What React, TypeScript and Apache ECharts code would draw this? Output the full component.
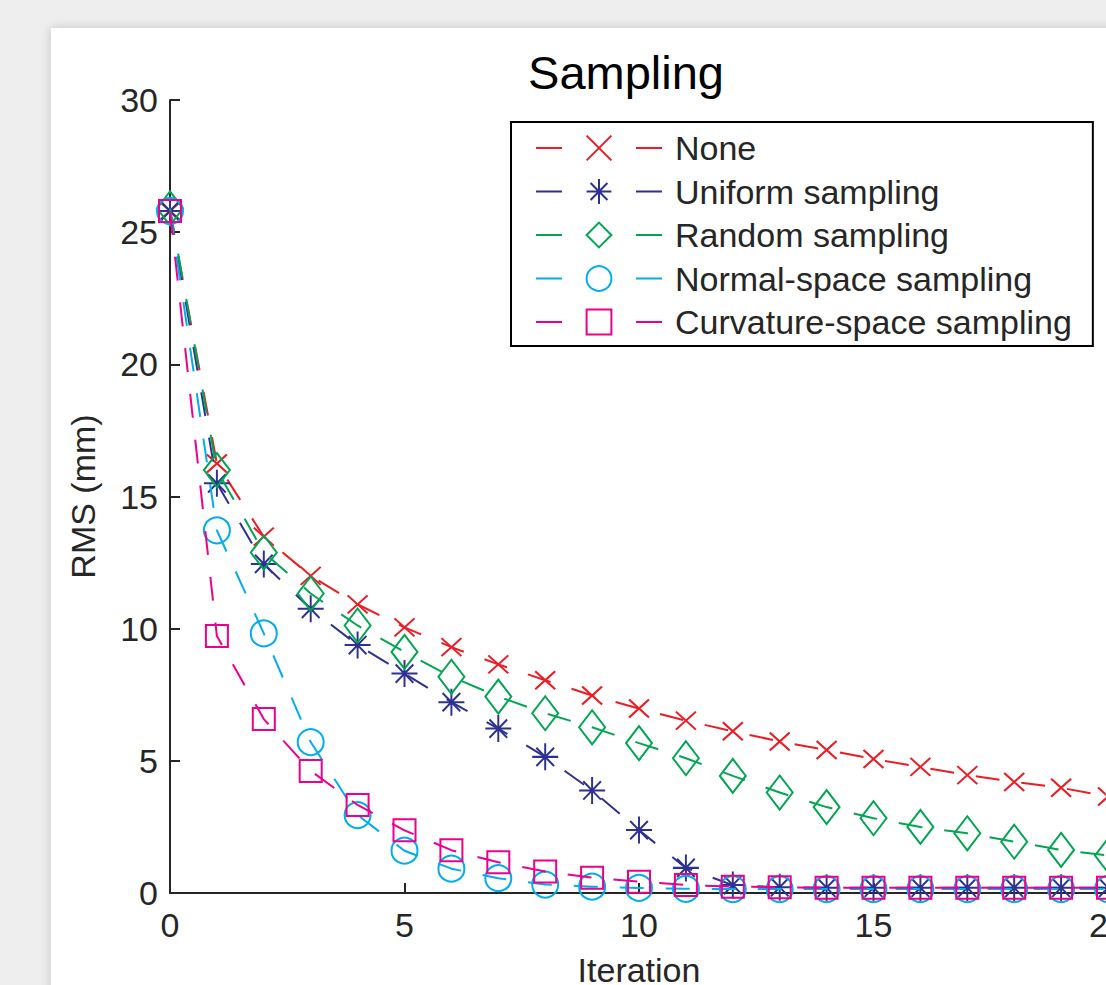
import React, { useEffect, useRef } from "react";
import * as echarts from "echarts";

const iterations = [0, 1, 2, 3, 4, 5, 6, 7, 8, 9, 10, 11, 12, 13, 14, 15, 16, 17, 18, 19, 20];
const seriesNames = ["None", "Uniform sampling", "Random sampling", "Normal-space sampling", "Curvature-space sampling"];
const noneValues = [25.8, 16.25, 13.48, 12.0, 10.92, 10.05, 9.3, 8.65, 8.05, 7.47, 6.98, 6.52, 6.12, 5.73, 5.41, 5.07, 4.77, 4.46, 4.2, 3.98, 3.65];
const uniformValues = [25.8, 15.5, 12.45, 10.75, 9.38, 8.3, 7.22, 6.22, 5.15, 3.88, 2.38, 0.95, 0.3, 0.22, 0.2, 0.2, 0.2, 0.2, 0.2, 0.2, 0.2];
const randomValues = [25.9, 16.0, 12.88, 11.33, 10.12, 9.12, 8.18, 7.43, 6.8, 6.27, 5.67, 5.1, 4.43, 3.8, 3.25, 2.83, 2.5, 2.26, 1.94, 1.63, 1.42];
const normalValues = [25.8, 13.72, 9.82, 5.71, 2.95, 1.6, 0.92, 0.56, 0.32, 0.24, 0.19, 0.16, 0.15, 0.15, 0.15, 0.15, 0.15, 0.15, 0.15, 0.15, 0.15];
const curvatureValues = [25.8, 9.72, 6.58, 4.62, 3.33, 2.37, 1.62, 1.16, 0.81, 0.58, 0.43, 0.3, 0.24, 0.22, 0.2, 0.2, 0.2, 0.2, 0.2, 0.2, 0.2];
const seriesColors = ["#ed1c24", "#2e3192", "#00a651", "#00aeef", "#ec008c"];
const xTicks = { min: 0, max: 20, interval: 5 };
const yTicks = { min: 0, max: 30, interval: 5 };

const FONT = "'Liberation Sans', Arial, Helvetica, sans-serif";
const TEXT = "#262626";
const FS = 34;

const symbols = [
  { symbol: "path://M0,0L10,10M10,0L0,10", size: [20, 18] },
  { symbol: "path://M5,0L5,10M0,5L10,5M1.6,1.6L8.4,8.4M8.4,1.6L1.6,8.4", size: [26, 27] },
  { symbol: "path://M5,0L10,7L5,14L0,7Z", size: [26, 34] },
  { symbol: "circle", size: 26 },
  { symbol: "rect", size: 22 },
];

export default function App() {
  const ref = useRef<HTMLDivElement>(null);
  useEffect(() => {
    if (!ref.current) return;
    const chart = echarts.init(ref.current, null, { renderer: "svg" });
    const all = [noneValues, uniformValues, randomValues, normalValues, curvatureValues];
    const series = all.map((vals, i) => ({
      name: seriesNames[i],
      type: "line",
      data: iterations.map((x, k) => [x, vals[k]]),
      symbol: symbols[i].symbol,
      symbolSize: symbols[i].size,
      showSymbol: true,
      lineStyle: { color: seriesColors[i], width: 2, type: [24, 22] },
      itemStyle: { color: "rgba(0,0,0,0)", borderColor: seriesColors[i], borderWidth: 2 },
      emphasis: { disabled: true },
      silent: true,
      z: 2 + i,
    }));
    chart.setOption({
      animation: false,
      backgroundColor: "#ffffff",
      textStyle: { fontFamily: FONT },
      grid: { left: 119, top: 72, width: 938, height: 793, containLabel: false },
      graphic: [
        {
          type: "text",
          x: 575,
          y: 44,
          style: {
            text: "Sampling",
            fontSize: 47,
            fontFamily: FONT,
            fill: "#000",
            textAlign: "center",
            textVerticalAlign: "middle",
          },
        },
      ],
      legend: {
        left: 460,
        top: 94,
        orient: "vertical",
        data: seriesNames,
        itemWidth: 126,
        itemHeight: 31,
        itemGap: 9.5,
        padding: [9, 21, 7, 24],
        borderColor: "#000",
        borderWidth: 2,
        borderRadius: 0,
        backgroundColor: "#fff",
        selectedMode: false,
        lineStyle: { type: [26, 74], width: 2 },
        textStyle: { fontSize: FS, color: TEXT, fontFamily: FONT, padding: [0, 0, 0, 8] },
      },
      xAxis: {
        type: "value",
        min: xTicks.min,
        max: xTicks.max,
        interval: xTicks.interval,
        name: "Iteration",
        nameLocation: "middle",
        nameGap: 60,
        nameTextStyle: { fontSize: FS, color: TEXT, fontFamily: FONT },
        axisLine: { show: true, lineStyle: { color: TEXT, width: 2 } },
        axisTick: { show: true, inside: true, length: 10, lineStyle: { color: TEXT, width: 2 } },
        axisLabel: { fontSize: FS, color: TEXT, margin: 15, fontFamily: FONT },
        splitLine: { show: false },
      },
      yAxis: {
        type: "value",
        min: yTicks.min,
        max: yTicks.max,
        interval: yTicks.interval,
        name: "RMS (mm)",
        nameLocation: "middle",
        nameRotate: 90,
        nameGap: 70,
        nameTextStyle: { fontSize: FS, color: TEXT, fontFamily: FONT },
        axisLine: { show: true, lineStyle: { color: TEXT, width: 2 } },
        axisTick: { show: true, inside: true, length: 10, lineStyle: { color: TEXT, width: 2 } },
        axisLabel: { fontSize: FS, color: TEXT, margin: 12, fontFamily: FONT },
        splitLine: { show: false },
      },
      series,
    });
    return () => chart.dispose();
  }, []);

  return (
    <div
      style={{
        position: "fixed",
        left: 0,
        top: 0,
        width: 1106,
        height: 985,
        overflow: "hidden",
        background: "#eeeeee",
      }}
    >
      <div
        style={{
          position: "absolute",
          left: 51,
          top: 28,
          width: 1200,
          height: 1000,
          background: "#ffffff",
          boxShadow: "0 0 10px rgba(0,0,0,0.18)",
        }}
      >
        <div ref={ref} style={{ width: 1200, height: 1000 }} />
      </div>
    </div>
  );
}
